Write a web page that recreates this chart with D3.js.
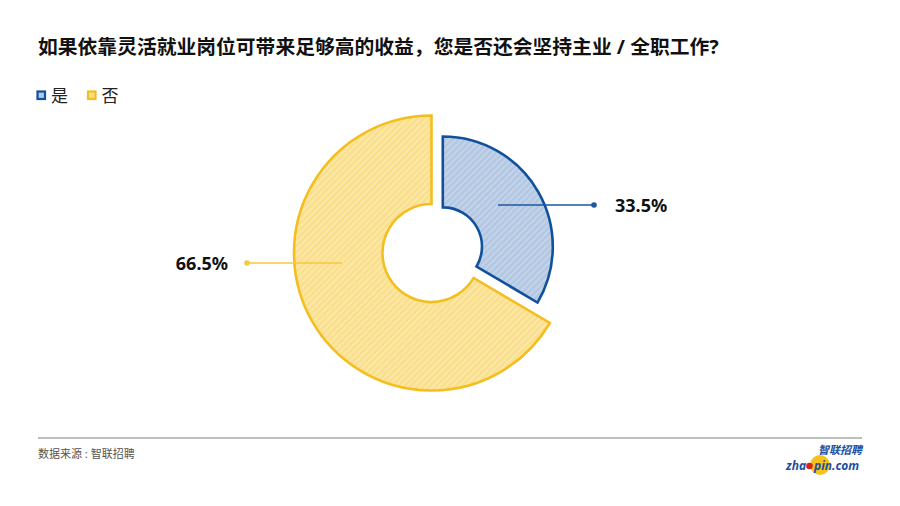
<!DOCTYPE html>
<html>
<head>
<meta charset="utf-8">
<script src="https://cdn.jsdelivr.net/npm/d3@7/dist/d3.min.js"></script>
<style>
  html, body { margin: 0; padding: 0; background: #fff; }
  svg { display: block; font-family: "Noto Sans", "Noto Sans CJK SC", sans-serif; }
</style>
</head>
<body>
<svg id="chart" width="900" height="506"></svg>
<script>
// ---- data ----
const title = "如果依靠灵活就业岗位可带来足够高的收益，您是否还会坚持主业 / 全职工作?";
const categories = ["是", "否"];
const values = [33.5, 66.5];
const valueLabels = ["33.5%", "66.5%"];
const source = "数据来源 : 智联招聘";

// ---- style ----
const W = 900, H = 506;
const cx = 431.5, cy = 253;
const baseInner = 49, baseOuter = 137.5;
const sliceScale = [0.8, 1];      // relative size of each slice
const sliceOffset = [13, 0];      // explode distance
const strokeColors = ["#11519c", "#f4be1e"];
const fillColors = ["#b4c8e3", "#fadf8c"];
const stripeColors = ["#c6d6eb", "#fdeab0"];
const lineColors = ["#1d57a0", "#f6c93f"];
// label anchor: [lineStartX, lineEndX (dot), y] relative to centre
const labelGeom = [
  { x0: 66.5, x1: 162.5, y: -48, textDx: 21, anchor: "start" },
  { x0: -89.5, x1: -184.5, y: 10, textDx: -19, anchor: "end" }
];

const svg = d3.select("#chart");
const defs = svg.append("defs");

categories.forEach((c, i) => {
  const p = defs.append("pattern")
    .attr("id", "hatch" + i)
    .attr("patternUnits", "userSpaceOnUse")
    .attr("width", 4.5).attr("height", 4.5)
    .attr("patternTransform", "rotate(45)");
  p.append("rect").attr("width", 4.5).attr("height", 4.5).attr("fill", fillColors[i]);
  p.append("line").attr("x1", 0.8).attr("y1", 0).attr("x2", 0.8).attr("y2", 4.5)
    .attr("stroke", stripeColors[i]).attr("stroke-width", 1.5);
});

// title
svg.append("text")
  .attr("x", 38).attr("y", 54)
  .attr("font-size", 19.8).attr("font-weight", "bold").attr("fill", "#111")
  .text(title);

// legend
const legendX = [37.5, 88];
categories.forEach((c, i) => {
  const g = svg.append("g").attr("transform", `translate(${legendX[i]},91.5)`);
  g.append("rect").attr("width", 7.5).attr("height", 7.5)
    .attr("fill", fillColors[i]).attr("stroke", strokeColors[i]).attr("stroke-width", 2.2);
  g.append("text").attr("x", 13.5).attr("y", 10.5)
    .attr("font-size", 17).attr("fill", "#222").text(c);
});

// pie
const pie = d3.pie().sort(null).value(d => d)(values);
const chartG = svg.append("g").attr("transform", `translate(${cx},${cy})`);

pie.forEach((d, i) => {
  const arc = d3.arc()
    .innerRadius(baseInner * sliceScale[i])
    .outerRadius(baseOuter * sliceScale[i]);
  const mid = (d.startAngle + d.endAngle) / 2;
  const dx = sliceOffset[i] * Math.sin(mid);
  const dy = -sliceOffset[i] * Math.cos(mid);
  chartG.append("path")
    .attr("d", arc(d))
    .attr("transform", `translate(${dx},${dy})`)
    .attr("fill", `url(#hatch${i})`)
    .attr("stroke", strokeColors[i])
    .attr("stroke-width", 2.6)
    .attr("stroke-linejoin", "miter");
});

// labels
pie.forEach((d, i) => {
  const lg = labelGeom[i];
  chartG.append("line")
    .attr("x1", lg.x0).attr("y1", lg.y).attr("x2", lg.x1).attr("y2", lg.y)
    .attr("stroke", lineColors[i]).attr("stroke-width", 1.3);
  chartG.append("circle")
    .attr("cx", lg.x1).attr("cy", lg.y).attr("r", 2.8)
    .attr("fill", lineColors[i]);
  chartG.append("text")
    .attr("x", lg.x1 + lg.textDx).attr("y", lg.y + 6.5)
    .attr("text-anchor", lg.anchor)
    .attr("font-size", 18).attr("font-weight", "bold").attr("fill", "#111")
    .text(valueLabels[i]);
});

// footer
svg.append("line")
  .attr("x1", 38).attr("x2", 862).attr("y1", 438).attr("y2", 438)
  .attr("stroke", "#a8a8a8").attr("stroke-width", 1.3);
svg.append("text")
  .attr("x", 38).attr("y", 458)
  .attr("font-size", 11).attr("fill", "#555")
  .text(source);

// logo
const logo = svg.append("g");
logo.append("circle").attr("cx", 820).attr("cy", 465).attr("r", 10).attr("fill", "#f6c21c");
logo.append("text").attr("x", 862).attr("y", 453.5).attr("text-anchor", "end")
  .attr("font-size", 11).attr("font-weight", "bold").attr("font-style", "italic")
  .attr("fill", "#1c4fa0").text("智联招聘");
logo.append("text").attr("x", 786).attr("y", 469.5)
  .attr("font-size", 12).attr("font-weight", "bold").attr("font-style", "italic")
  .attr("fill", "#1c4fa0").text("zha");
logo.append("circle").attr("cx", 809.5).attr("cy", 466).attr("r", 3.3).attr("fill", "#d8251c");
logo.append("text").attr("x", 814).attr("y", 469.5)
  .attr("font-size", 12).attr("font-weight", "bold").attr("font-style", "italic")
  .attr("fill", "#1c4fa0").text("pin.com");
</script>
</body>
</html>
